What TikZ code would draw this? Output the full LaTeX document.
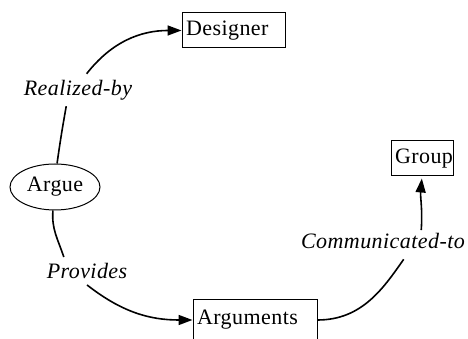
\documentclass[tikz,border=0pt]{standalone}
\usepackage{fontspec}
\setmainfont{Liberation Serif}[LetterSpace=2]
\usetikzlibrary{arrows.meta,shapes.geometric}

\begin{document}
\begin{tikzpicture}[x=1pt,y=1pt,
    every node/.style={font=\fontsize{22}{24}\selectfont},
    box/.style={draw, rectangle, line width=1pt, align=left, inner xsep=4pt, minimum height=35pt},
    rel/.style={font=\fontsize{22}{24}\selectfont\itshape, inner sep=6pt},
    link/.style={line width=1.6pt},
    arr/.style={-{Triangle[length=14pt,width=10pt]}}]
            \useasboundingbox (0,0) rectangle (468,339);

            \node (designer) at (233.5,308.5) [box, text width=95pt] {Designer};
            \node (argue) at (55,152) [draw, ellipse, line width=1pt, minimum width=90pt, minimum height=46pt, inner sep=0pt] {Argue};
            \node (group) at (422,180.5) [box, text width=54pt] {Group};
            \node (arguments) at (255,19) [box, text width=116pt, minimum height=40pt] {Arguments};

            \node (realized) at (78,249) [rel] {Realized-by};
            \node (provides) at (87,68) [rel] {Provides};
            \node (communicated) at (383,98) [rel, inner sep=3pt] {Communicated-to};

            \draw[link] (argue.85) to[out=82,in=-100] (realized.-126);
            \draw[link,arr] (realized.62) to[out=52,in=180] (designer.west);

            \draw[link] (argue.-95) to[out=-95,in=108] (provides.149);
            \draw[link,arr] (provides.south) to[out=-38,in=180] (arguments.west);

            \draw[link,shorten >=9pt] (arguments.east) to[out=0,in=-125] (communicated.-23);
            \draw[link,arr,shorten >=2pt] (communicated.16) to[out=86,in=-95] (group.south);
        \end{tikzpicture}
\end{document}
